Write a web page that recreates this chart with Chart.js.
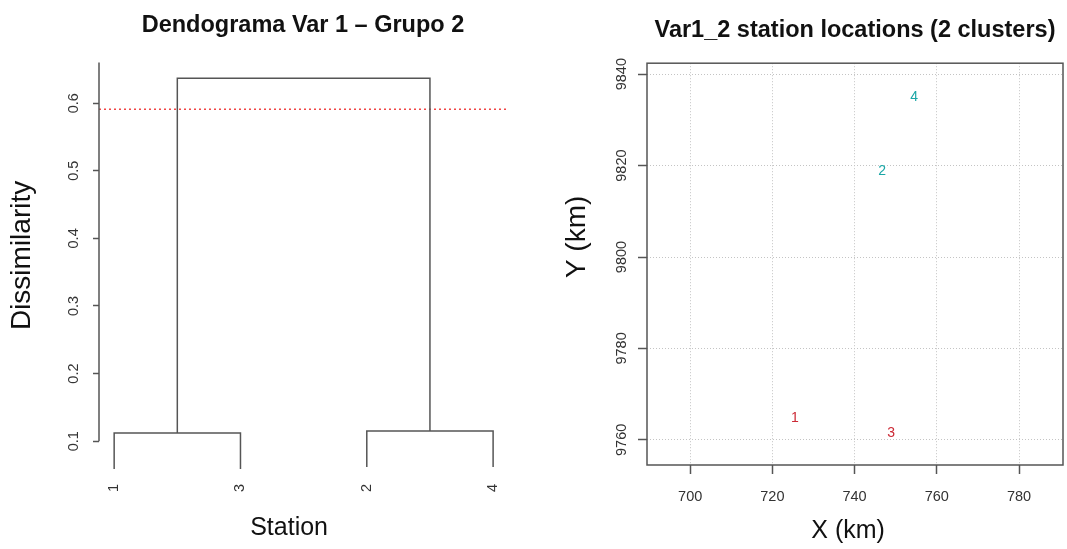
<!DOCTYPE html>
<html lang="en">
<head>
<meta charset="UTF-8" />
<title>Dendograma Var 1 - Grupo 2</title>
<script src="https://cdn.jsdelivr.net/npm/chart.js@4.4.0/dist/chart.umd.min.js"></script>
<style>
    body { margin: 0; background: #fff; }
    #left { position: absolute; left: 0; top: 0; }
    #right { position: absolute; left: 550px; top: 0; }
</style>
</head>
<body>
<canvas id="left" width="550" height="549"></canvas>
<canvas id="right" width="517" height="549"></canvas>

<script>
    // dendrogram (leaf order as drawn)
    const leafLabels = ["1", "3", "2", "4"];
    const leafHeights = [0.059, 0.059, 0.062, 0.062];
    const mergeHeights = [0.112, 0.115, 0.637]; // {1,3}, {2,4}, top
    const cutHeight = 0.591;
    const dissimTicks = [0.1, 0.2, 0.3, 0.4, 0.5, 0.6];

    // station locations
    const stationIds = ["1", "2", "3", "4"];
    const stationX = [725.5, 746.7, 748.9, 754.5];
    const stationY = [9764.8, 9818.8, 9761.5, 9835.0];
    const stationCluster = [1, 2, 1, 2];
    const xKmTicks = [700, 720, 740, 760, 780];
    const yKmTicks = [9760, 9780, 9800, 9820, 9840];

    Chart.defaults.font.family = "'Liberation Sans', Arial, sans-serif";
    Chart.defaults.color = "#333";

    const treeColor = "#555";
    const clusterColors = { 1: "#cc2a36", 2: "#1aa6a6" };

    // build the tree segments
    const seg = (pts) => ({
        data: pts.map((p) => ({ x: p[0], y: p[1] })),
        borderColor: treeColor,
        borderWidth: 1.5,
        pointRadius: 0,
        fill: false,
        tension: 0,
    });
    const m = mergeHeights;
    const dendroSets = [
        seg([[1, leafHeights[0]], [1, m[0]], [2, m[0]], [2, leafHeights[1]]]),
        seg([[3, leafHeights[2]], [3, m[1]], [4, m[1]], [4, leafHeights[3]]]),
        seg([[1.5, m[0]], [1.5, m[2]], [3.5, m[2]], [3.5, m[1]]]),
        {
            data: [{ x: 0.88, y: cutHeight }, { x: 4.11, y: cutHeight }],
            borderColor: "#f04545",
            borderWidth: 1.6,
            borderDash: [2, 3],
            pointRadius: 0,
            fill: false,
        },
    ];

    // R style y axis line, only from first tick upwards
    const axisLine = {
        id: "axisLine",
        afterDraw(chart) {
            const ctx = chart.ctx;
            const y = chart.scales.y;
            ctx.save();
            ctx.strokeStyle = "#555";
            ctx.lineWidth = 1.5;
            ctx.beginPath();
            ctx.moveTo(chart.chartArea.left, y.getPixelForValue(0.1));
            ctx.lineTo(chart.chartArea.left, y.getPixelForValue(0.66));
            ctx.stroke();
            ctx.restore();
        },
    };

    new Chart("left", {
        type: "line",
        data: { datasets: dendroSets },
        options: {
            responsive: false,
            animation: false,
            layout: { padding: { right: 43 } },
            plugins: {
                legend: { display: false },
                tooltip: { enabled: false },
                title: {
                    display: true,
                    fullSize: false,
                    text: "Dendograma Var 1 – Grupo 2",
                    font: { size: 23.5, weight: "bold" },
                    color: "#111",
                    padding: { top: 11, bottom: 20 },
                },
            },
            scales: {
                x: {
                    type: "linear",
                    min: 0.88,
                    max: 4.11,
                    afterBuildTicks: (s) => {
                        s.ticks = leafLabels.map((l, i) => ({ value: i + 1 }));
                    },
                    ticks: {
                        callback: (v, i) => leafLabels[i],
                        minRotation: 90,
                        maxRotation: 90,
                        autoSkip: false,
                        padding: 9,
                        font: { size: 14.5 },
                    },
                    grid: { display: false, drawTicks: false },
                    border: { display: false },
                    title: {
                        display: true,
                        text: "Station    ",
                        font: { size: 25 },
                        color: "#111",
                        padding: { top: 0, bottom: 6 },
                    },
                    afterFit: (s) => { s.height = 74; },
                },
                y: {
                    type: "linear",
                    min: 0.05,
                    max: 0.665,
                    afterBuildTicks: (s) => {
                        s.ticks = dissimTicks.map((v) => ({ value: v }));
                    },
                    ticks: {
                        callback: (v) => v.toFixed(1),
                        minRotation: 90,
                        crossAlign: "center",
                        padding: 9,
                        font: { size: 14.5 },
                    },
                    grid: { drawOnChartArea: false, tickLength: 6, tickColor: "#555", tickWidth: 1.5 },
                    border: { display: false },
                    title: {
                        display: true,
                        text: "   Dissimilarity",
                        font: { size: 28 },
                        color: "#111",
                        padding: { top: 5 },
                    },
                    afterFit: (s) => { s.width = 99; },
                },
            },
        },
        plugins: [axisLine],
    });

    // scatter: one dataset per cluster
    const clusterSets = [1, 2].map((c) => {
        const idx = stationIds.map((s, i) => i).filter((i) => stationCluster[i] === c);
        return {
            data: idx.map((i) => ({ x: stationX[i], y: stationY[i] })),
            stationLabels: idx.map((i) => stationIds[i]),
            borderColor: clusterColors[c],
            pointRadius: 0,
        };
    });

    const pointLabels = {
        id: "pointLabels",
        afterDatasetsDraw(chart) {
            const ctx = chart.ctx;
            ctx.save();
            ctx.font = "14px 'Liberation Sans', Arial, sans-serif";
            ctx.textAlign = "center";
            ctx.textBaseline = "middle";
            chart.data.datasets.forEach((ds, di) => {
                chart.getDatasetMeta(di).data.forEach((pt, i) => {
                    ctx.fillStyle = ds.borderColor;
                    ctx.fillText(ds.stationLabels[i], pt.x, pt.y);
                });
            });
            ctx.restore();
        },
    };

    const boxPlugin = {
        id: "box",
        afterDraw(chart) {
            const a = chart.chartArea;
            const ctx = chart.ctx;
            ctx.save();
            ctx.strokeStyle = "#555";
            ctx.lineWidth = 1.5;
            ctx.strokeRect(a.left, a.top, a.right - a.left, a.bottom - a.top);
            ctx.restore();
        },
    };

    new Chart("right", {
        type: "scatter",
        data: { datasets: clusterSets },
        options: {
            responsive: false,
            animation: false,
            layout: { padding: { right: 4 } },
            plugins: {
                legend: { display: false },
                tooltip: { enabled: false },
                title: {
                    display: true,
                    fullSize: false,
                    text: "Var1_2 station locations (2 clusters)",
                    font: { size: 23.5, weight: "bold" },
                    color: "#111",
                    padding: { top: 16, bottom: 19 },
                },
            },
            scales: {
                x: {
                    min: 689.5,
                    max: 790.7,
                    afterBuildTicks: (s) => {
                        s.ticks = xKmTicks.map((v) => ({ value: v }));
                    },
                    ticks: { padding: 14, font: { size: 14.5 } },
                    grid: { color: "#c4c4c4", tickLength: 9, tickColor: "#555", tickWidth: 1.5 },
                    border: { display: false, dash: [1, 2] },
                    title: {
                        display: true,
                        text: "X (km)  ",
                        font: { size: 25 },
                        color: "#111",
                        padding: { top: 0, bottom: 3 },
                    },
                    afterFit: (s) => { s.height = 84; },
                },
                y: {
                    min: 9754.5,
                    max: 9842.4,
                    afterBuildTicks: (s) => {
                        s.ticks = yKmTicks.map((v) => ({ value: v }));
                    },
                    ticks: {
                        callback: (v) => String(v),
                        minRotation: 90,
                        crossAlign: "center",
                        padding: 0,
                        font: { size: 14.5 },
                    },
                    grid: { color: "#c4c4c4", tickLength: 9, tickColor: "#555", tickWidth: 1.5 },
                    border: { display: false, dash: [1, 2] },
                    title: {
                        display: true,
                        text: "       Y (km)",
                        font: { size: 28 },
                        color: "#111",
                        padding: { top: 10 },
                    },
                    afterFit: (s) => { s.width = 97; },
                },
            },
        },
        plugins: [boxPlugin, pointLabels],
    });
</script>
</body>
</html>
